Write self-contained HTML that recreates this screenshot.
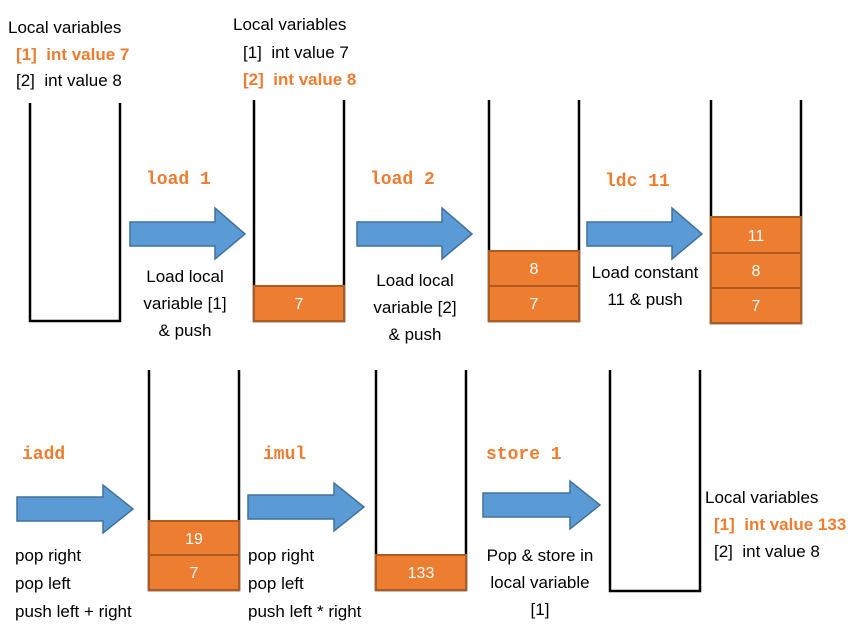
<!DOCTYPE html>
<html><head><meta charset="utf-8"><style>
html,body{margin:0;padding:0;background:#fff;}
svg{display:block;font-family:"Liberation Sans",sans-serif;}
.t{font-size:17px;fill:#000;}
.o{font-size:17px;fill:#ED7D31;font-weight:bold;}
.m{font-family:"Liberation Mono",monospace;font-size:18px;font-weight:bold;fill:#ED7D31;}
.s{stroke:#000;stroke-width:2.5;fill:none;}
.b{fill:#ED7D31;stroke:#AE5A21;stroke-width:2;}
.bt{font-size:16px;fill:#fff;text-anchor:middle;}
.a{fill:#5B9BD5;stroke:#41719C;stroke-width:1.5;}
.c{text-anchor:middle;}
</style></head><body>
<svg width="865" height="628" viewBox="0 0 865 628">
<g>
<text class="t" x="8" y="33">Local variables</text>
<text class="o" x="16" y="60">[1]&#160; int value 7</text>
<text class="t" x="16" y="86">[2]&#160; int value 8</text></g>
<path class="s" d="M30,103 V321 H120 V103"/>
<text class="m" x="146" y="184">load 1</text>
<polygon class="a" points="130,222 215,222 215,208 245,234 215,259 215,246 130,246"/>
<g class="t c"><text x="185" y="282">Load local</text><text x="185" y="309">variable [1]</text><text x="185" y="336">&amp; push</text></g>
<g>
<text class="t" x="233" y="30">Local variables</text>
<text class="t" x="243" y="58">[1]&#160; int value 7</text>
<text class="o" x="243" y="85">[2]&#160; int value 8</text></g>
<path class="s" d="M254,100 V321 H344 V100"/>
<rect class="b" x="254" y="286" width="90" height="35"/><text class="bt" x="299" y="309">7</text>
<text class="m" x="370" y="184">load 2</text>
<polygon class="a" points="357,222 442,222 442,208 472,234 442,259 442,246 357,246"/>
<g class="t c"><text x="415" y="286">Load local</text><text x="415" y="313">variable [2]</text><text x="415" y="340">&amp; push</text></g>
<path class="s" d="M489,100 V321 H579 V100"/>
<rect class="b" x="489" y="251" width="90" height="35"/><text class="bt" x="534" y="274">8</text>
<rect class="b" x="489" y="286" width="90" height="35"/><text class="bt" x="534" y="309">7</text>
<text class="m" x="605" y="186">ldc 11</text>
<polygon class="a" points="587,222 672,222 672,208 702,234 672,259 672,246 587,246"/>
<g class="t c"><text x="645" y="278">Load constant</text><text x="645" y="305">11 &amp; push</text></g>
<path class="s" d="M711,100 V323 H801 V100"/>
<rect class="b" x="711" y="217" width="90" height="36"/><text class="bt" x="756" y="241">11</text>
<rect class="b" x="711" y="253" width="90" height="35"/><text class="bt" x="756" y="276">8</text>
<rect class="b" x="711" y="288" width="90" height="35"/><text class="bt" x="756" y="311">7</text>

<text class="m" x="22" y="459">iadd</text>
<polygon class="a" points="17,497 103,497 103,485 133,509 103,533 103,521 17,521"/>
<g class="t"><text x="15" y="561">pop right</text><text x="15" y="589">pop left</text><text x="15" y="617">push left + right</text></g>
<path class="s" d="M149,370 V590 H239 V370"/>
<rect class="b" x="149" y="521" width="90" height="34"/><text class="bt" x="194" y="544">19</text>
<rect class="b" x="149" y="555" width="90" height="35"/><text class="bt" x="194" y="578">7</text>
<text class="m" x="263" y="459">imul</text>
<polygon class="a" points="248,495 334,495 334,483 364,507 334,531 334,519 248,519"/>
<g class="t"><text x="248" y="561">pop right</text><text x="248" y="589">pop left</text><text x="248" y="617">push left * right</text></g>
<path class="s" d="M376,370 V590 H466 V370"/>
<rect class="b" x="376" y="555" width="90" height="35"/><text class="bt" x="421" y="578">133</text>
<text class="m" x="486" y="459">store 1</text>
<polygon class="a" points="483,493 570,493 570,481 600,505 570,529 570,517 483,517"/>
<g class="t c"><text x="540" y="561">Pop &amp; store in</text><text x="540" y="588">local variable</text><text x="540" y="615">[1]</text></g>
<path class="s" d="M610,370 V591 H700 V370"/>
<g>
<text class="t" x="705" y="503">Local variables</text>
<text class="o" x="714" y="530">[1]&#160; int value 133</text>
<text class="t" x="714" y="557">[2]&#160; int value 8</text></g>
</svg>
</body></html>
